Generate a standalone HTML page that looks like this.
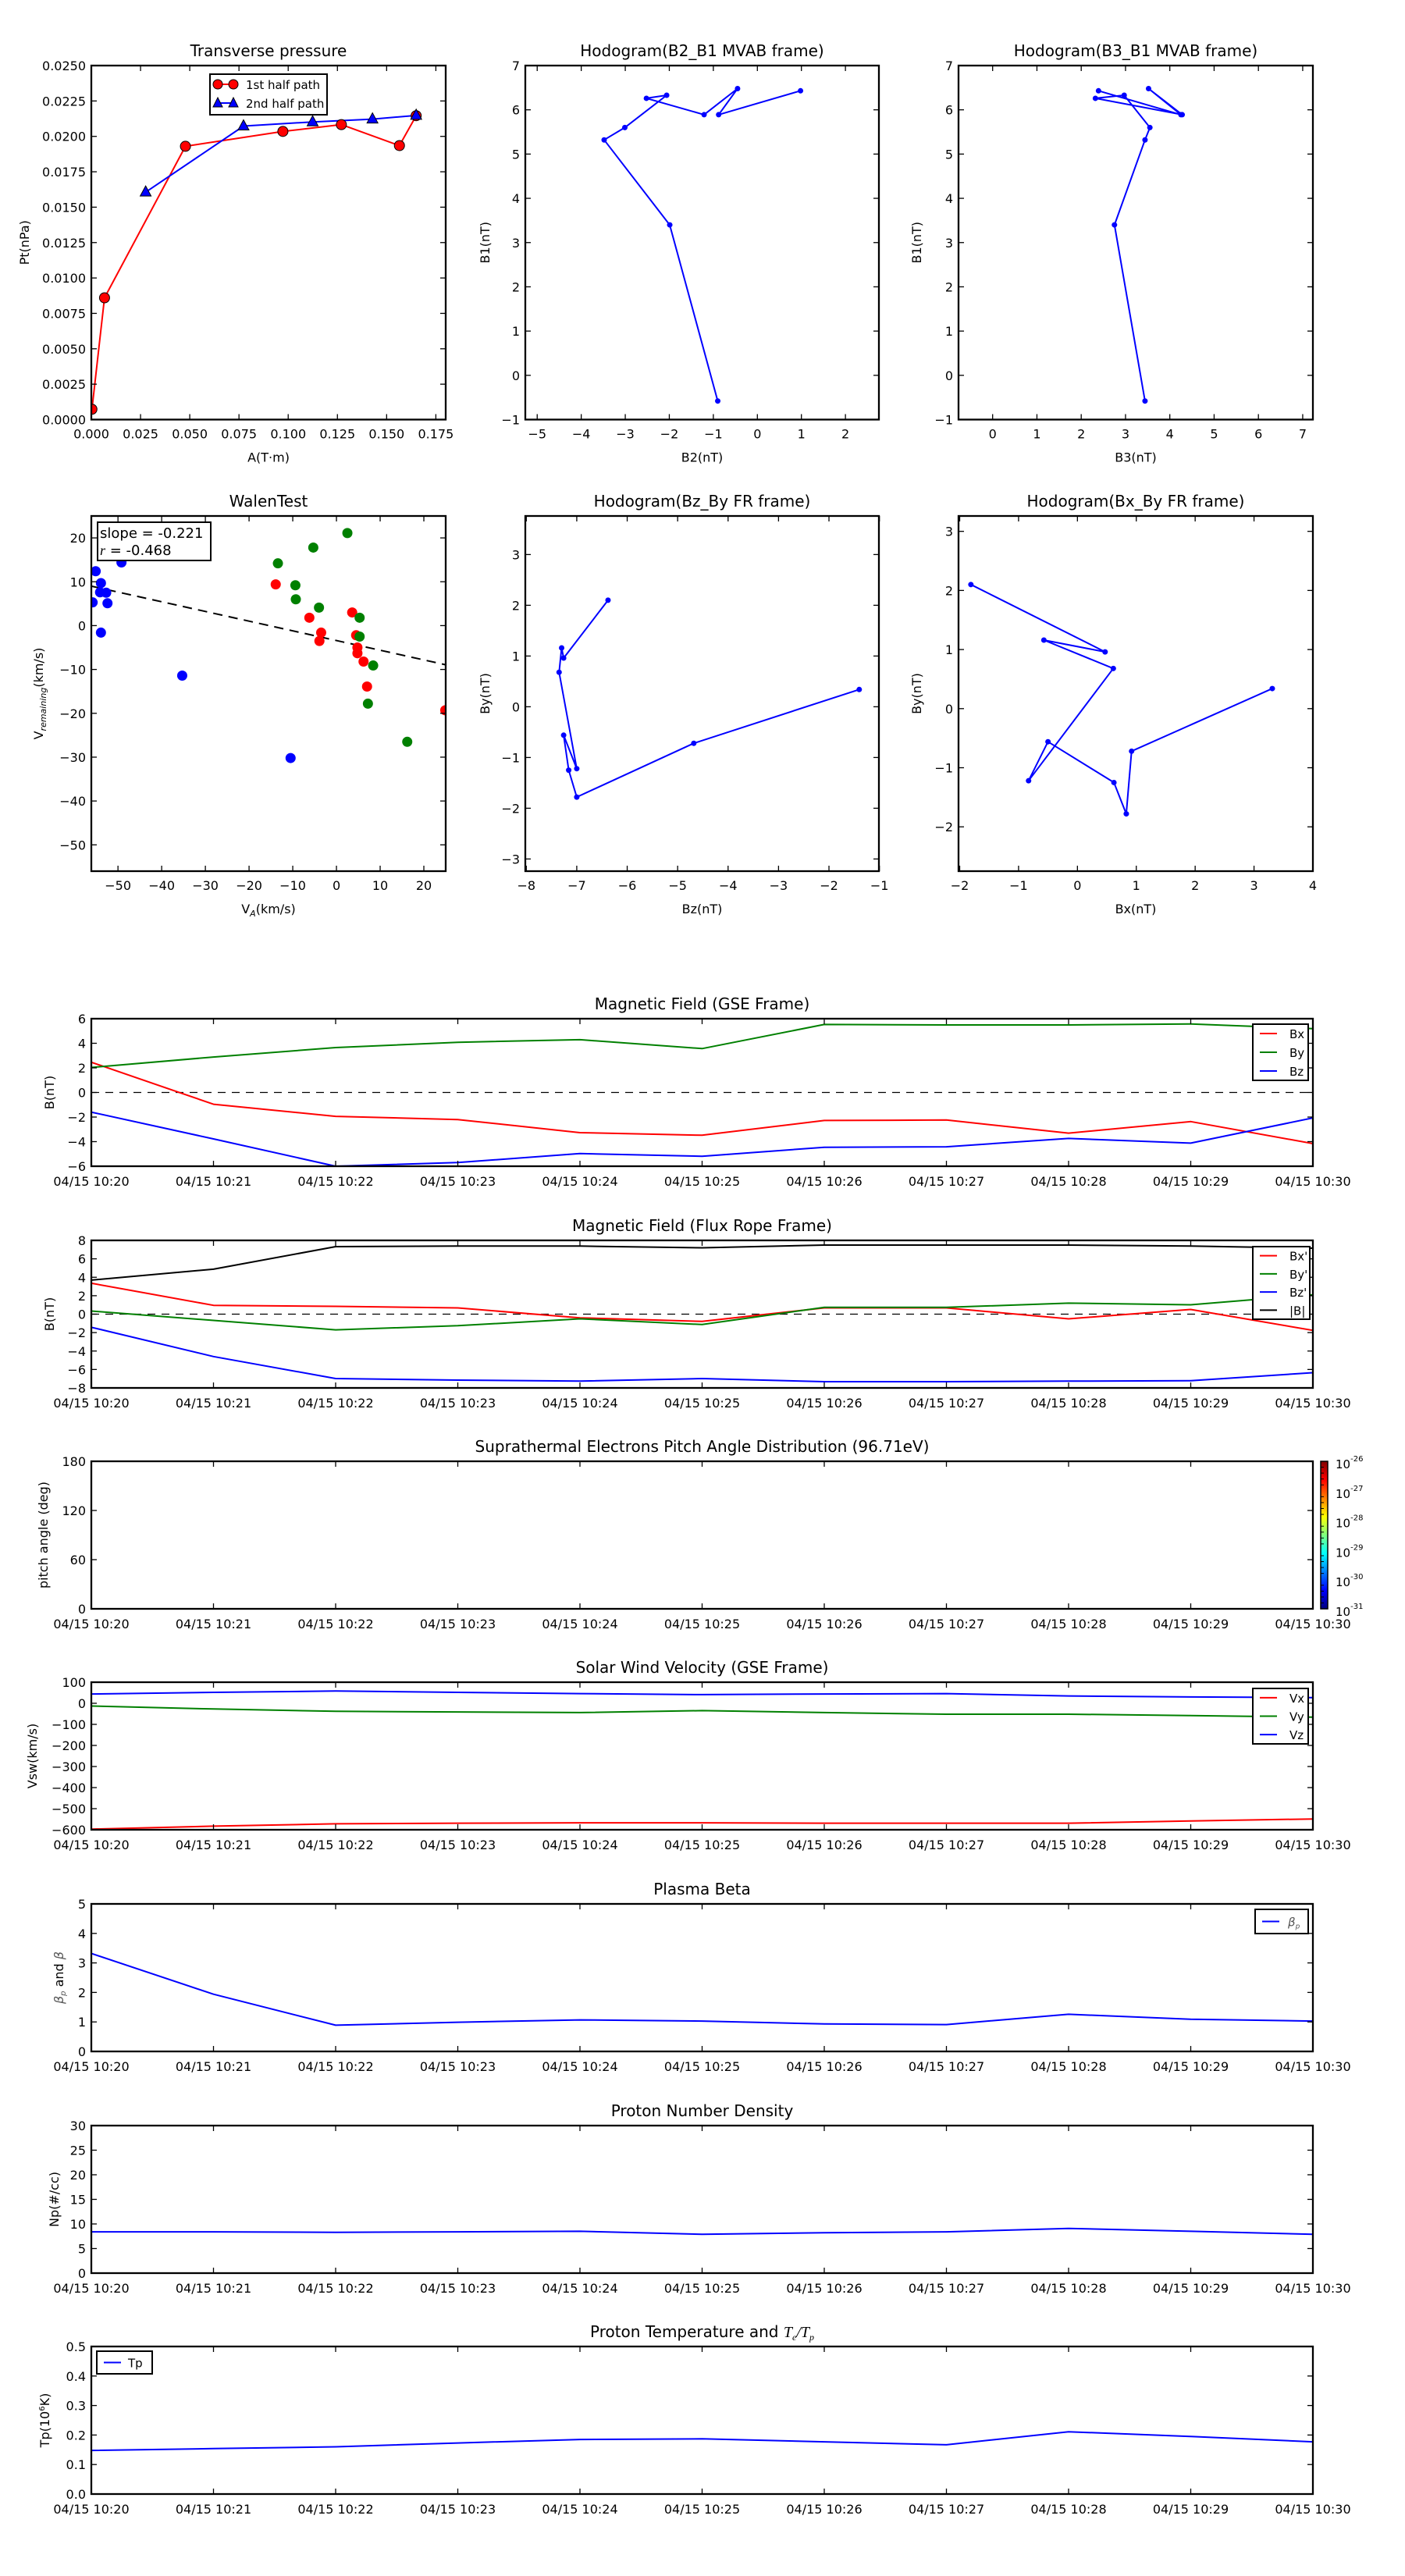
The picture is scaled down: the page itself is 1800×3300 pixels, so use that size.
<!DOCTYPE html>
<html><head><meta charset="utf-8"><title>Flux rope analysis</title>
<style>
html,body{margin:0;padding:0;background:#fff;}
svg{display:block;font-family:"DejaVu Sans","Liberation Sans",sans-serif;}
</style></head>
<body>
<svg id="fig" xmlns="http://www.w3.org/2000/svg" width="1800" height="3300" viewBox="0 0 1800 3300">
<defs>
<linearGradient id="jet" x1="0" y1="1" x2="0" y2="0">
<stop offset="0" stop-color="#00007f"/><stop offset="0.125" stop-color="#0000ff"/>
<stop offset="0.375" stop-color="#00ffff"/><stop offset="0.5" stop-color="#7fff7f"/>
<stop offset="0.625" stop-color="#ffff00"/><stop offset="0.875" stop-color="#ff0000"/>
<stop offset="1" stop-color="#7f0000"/>
</linearGradient>
</defs>
<rect x="0" y="0" width="1800" height="3300" fill="#fff"/>
</svg>
<script>
// ---------- Data ----------
// Transverse pressure
const tpA1 = [0.0003, 0.0067, 0.0478, 0.0973, 0.127, 0.1565, 0.165];
const tpP1 = [0.00073, 0.0086, 0.0193, 0.02035, 0.02083, 0.01935, 0.02146];
const tpA2 = [0.0276, 0.0773, 0.1124, 0.1428, 0.165];
const tpP2 = [0.01606, 0.02073, 0.02102, 0.02122, 0.02148];
// MVAB hodograms
const mvB1 = [-0.58, 3.40, 5.32, 5.60, 6.33, 6.26, 5.89, 6.48, 5.89, 6.43];
const mvB2 = [-0.90, -1.99, -3.48, -3.01, -2.06, -2.52, -1.21, -0.45, -0.88, 0.98];
const mvB3 = [3.44, 2.75, 3.44, 3.55, 2.97, 2.32, 4.28, 3.52, 4.25, 2.39];
// FR hodograms
const frBy = [2.10, 0.96, 1.16, 0.68, -1.22, -0.56, -1.25, -1.78, -0.72, 0.34];
const frBz = [-6.38, -7.26, -7.30, -7.35, -7.00, -7.26, -7.16, -7.00, -4.68, -1.40];
const frBx = [-1.81, 0.47, -0.57, 0.61, -0.83, -0.50, 0.62, 0.83, 0.92, 3.31];
// Walen test
const wBlueX = [-55.1, -53.9, -54.1, -52.7, -55.8, -52.4, -53.9, -49.2, -35.3, -10.5];
const wBlueY = [12.4, 9.7, 7.6, 7.5, 5.3, 5.1, -1.6, 14.4, -11.4, -30.2];
const wRedX = [-13.9, -6.2, -3.5, -3.9, 3.6, 4.5, 4.8, 4.8, 6.2, 7.0, 24.9];
const wRedY = [9.4, 1.8, -1.6, -3.5, 3.0, -2.2, -5.0, -6.3, -8.2, -13.9, -19.3];
const wGreenX = [-13.4, -5.3, 2.5, -9.4, -9.3, -4.0, 5.3, 5.3, 8.4, 7.2, 16.2];
const wGreenY = [14.2, 17.8, 21.1, 9.2, 6.0, 4.1, 1.8, -2.5, -9.1, -17.8, -26.5];
const wSlope = -0.221;
const wIntercept = -3.4;
// Time series
const timeLabels = ['04/15 10:20','04/15 10:21','04/15 10:22','04/15 10:23','04/15 10:24','04/15 10:25','04/15 10:26','04/15 10:27','04/15 10:28','04/15 10:29','04/15 10:30'];
const gseBx = [2.46, -0.96, -1.94, -2.2, -3.27, -3.48, -2.28, -2.24, -3.31, -2.37, -4.16];
const gseBy = [2.03, 2.88, 3.65, 4.08, 4.29, 3.57, 5.53, 5.49, 5.49, 5.57, 5.19];
const gseBz = [-1.6, -3.78, -6.0, -5.7, -4.97, -5.19, -4.46, -4.42, -3.74, -4.12, -2.07];
const fluxBx = [3.35, 0.96, 0.85, 0.68, -0.4, -0.79, 0.68, 0.68, -0.51, 0.51, -1.76];
const fluxBy = [0.34, -0.68, -1.70, -1.25, -0.51, -1.13, 0.74, 0.74, 1.19, 1.02, 2.1];
const fluxBz = [-1.42, -4.6, -6.98, -7.15, -7.26, -6.98, -7.32, -7.32, -7.26, -7.21, -6.35];
const fluxBt = [3.69, 4.88, 7.32, 7.38, 7.38, 7.2, 7.49, 7.49, 7.49, 7.38, 7.15];
const swVx = [-597, -583, -572, -569, -567, -567, -569, -569, -569, -558, -549];
const swVy = [-13, -27, -38, -41, -44, -35, -44, -52, -52, -58, -66];
const swVz = [44, 52, 58, 52, 46, 41, 44, 46, 35, 30, 27];
const betaP = [3.32, 1.94, 0.89, 0.99, 1.07, 1.03, 0.93, 0.91, 1.26, 1.09, 1.03];
const densNp = [8.4, 8.4, 8.3, 8.4, 8.5, 7.9, 8.2, 8.4, 9.1, 8.5, 7.9];
const tempTp = [0.148, 0.154, 0.16, 0.173, 0.185, 0.187, 0.177, 0.167, 0.211, 0.195, 0.177];

// ---------- Helpers ----------
const NS = 'http://www.w3.org/2000/svg';
const svg = document.getElementById('fig');
let clipN = 0;
function el(tag, attrs, parent, text) {
  const e = document.createElementNS(NS, tag);
  for (const k in attrs) e.setAttribute(k, attrs[k]);
  if (text !== undefined) e.textContent = text;
  (parent || svg).appendChild(e);
  return e;
}
function fmtMinus(s) { return String(s).replace('-', '\u2212'); }

function makeAxes(o) {
  const g = el('g', {});
  
  
  const sx = v => o.x0 + (v - o.xmin) / (o.xmax - o.xmin) * (o.x1 - o.x0);
  const sy = v => o.y1 - (v - o.ymin) / (o.ymax - o.ymin) * (o.y1 - o.y0);
  const cid = 'clip' + (clipN++);
  const cp = el('clipPath', {id: cid}, g);
  el('rect', {x: o.x0, y: o.y0, width: o.x1 - o.x0, height: o.y1 - o.y0}, cp);
  const data = el('g', {'clip-path': 'url(#' + cid + ')'}, g);
  
  
  const tl = o.tickLen || 7;
  const fs = o.fs || 16;
  const xtg = el('g', {}, g);
  
  
  o.xt.forEach((v, i) => {
    const x = sx(v);
    el('line', {x1: x, y1: o.y1, x2: x, y2: o.y1 - tl, stroke: '#000', 'stroke-width': 1.3}, xtg);
    el('line', {x1: x, y1: o.y0, x2: x, y2: o.y0 + tl, stroke: '#000', 'stroke-width': 1.3}, xtg);
    const t = el('text', {x: x, y: o.y1 + (o.xlOff || 24), 'text-anchor': 'middle', 'font-size': fs}, xtg, fmtMinus(o.xl[i]));
    
    
  });
  const ytg = el('g', {}, g);
  
  
  o.yt.forEach((v, i) => {
    const y = sy(v);
    el('line', {x1: o.x0, y1: y, x2: o.x0 + tl, y2: y, stroke: '#000', 'stroke-width': 1.3}, ytg);
    el('line', {x1: o.x1, y1: y, x2: o.x1 - tl, y2: y, stroke: '#000', 'stroke-width': 1.3}, ytg);
    const t = el('text', {x: o.x0 - 7, y: y + 6, 'text-anchor': 'end', 'font-size': fs}, ytg, fmtMinus(o.yl[i]));
    
    
  });
  const fr = el('rect', {x: o.x0, y: o.y0, width: o.x1 - o.x0, height: o.y1 - o.y0, fill: 'none', stroke: '#000', 'stroke-width': 2.3}, g);
  
  
  if (o.title) {
    const t = el('text', {x: (o.x0 + o.x1) / 2, y: o.y0 - 12, 'text-anchor': 'middle', 'font-size': 20}, g);
    t.innerHTML = o.title;
    
    
  }
  if (o.xlabel) {
    const t = el('text', {x: (o.x0 + o.x1) / 2, y: o.y1 + 54, 'text-anchor': 'middle', 'font-size': 16}, g);
    t.innerHTML = o.xlabel;
    
    
  }
  if (o.ylabel) {
    const yc = (o.y0 + o.y1) / 2;
    const t = el('text', {x: o.ylx, y: yc + 6, 'text-anchor': 'middle', 'font-size': 16, transform: 'rotate(-90 ' + o.ylx + ' ' + yc + ')'}, g);
    t.innerHTML = o.ylabel;
    
    
  }
  return {sx, sy, data, g};
}
function range(a, b, s) { const r = []; for (let v = a; v <= b + s * 1e-6; v += s) r.push(+v.toFixed(6)); return r; }
function polyline(ax, xs, ys, color, name, width) {
  const pts = xs.map((x, i) => ax.sx(x).toFixed(1) + ',' + ax.sy(ys[i]).toFixed(1)).join(' ');
  const p = el('polyline', {points: pts, fill: 'none', stroke: color, 'stroke-width': width || 2, 'stroke-linejoin': 'round'}, ax.data);
  
  
  return p;
}
function dots(ax, xs, ys, color, r, name, edge) {
  xs.forEach((x, i) => {
    const c = el('circle', {cx: ax.sx(x), cy: ax.sy(ys[i]), r: r, fill: color, stroke: edge || 'none', 'stroke-width': 1}, ax.data);
    
    
  });
}
function legend(x, y, w, h, entries, name, textX) {
  const g = el('g', {});
  
  
  el('rect', {x: x, y: y, width: w, height: h, fill: '#fff', stroke: '#000', 'stroke-width': 2}, g);
  const step = h / entries.length;
  entries.forEach((e, i) => {
    const cy = y + step * (i + 0.5);
    el('line', {x1: x + 9, y1: cy, x2: x + 31, y2: cy, stroke: e.c, 'stroke-width': 2}, g);
    const t = el('text', {x: x + (textX || 47), y: cy + 6, 'font-size': 15}, g);
    t.innerHTML = e.t;
    
    
  });
}

// ---------- Row 1 ----------
const r1y0 = 84, r1y1 = 537.5, r2y0 = 661, r2y1 = 1116;
const cx0 = [117, 673, 1228], cx1 = [571, 1126, 1682];

// Transverse pressure
(function(){
  const tpTicksX = range(0, 0.175, 0.025), tpTicksY = range(0, 0.025, 0.0025);
  const ax = makeAxes({name: 'transverse-pressure', x0: cx0[0], x1: cx1[0], y0: r1y0, y1: r1y1,
    xmin: 0, xmax: 0.18, ymin: 0, ymax: 0.025,
    xt: tpTicksX, xl: tpTicksX.map(v => v.toFixed(3)), yt: tpTicksY, yl: tpTicksY.map(v => v.toFixed(4)),
    title: 'Transverse pressure', xlabel: 'A(T·m)', ylabel: 'Pt(nPa)', ylx: 31});
  polyline(ax, tpA1, tpP1, '#ff0000', 'first-half-path-line', 2);
  polyline(ax, tpA2, tpP2, '#0000ff', 'second-half-path-line', 2);
  dots(ax, tpA1, tpP1, '#ff0000', 6.5, 'first-half-marker', '#000');
  tpA2.forEach((a, i) => {
    const x = ax.sx(a), y = ax.sy(tpP2[i]);
    const t = el('polygon', {points: `${x},${y-8} ${x-7},${y+5} ${x+7},${y+5}`, fill: '#0000ff', stroke: '#000', 'stroke-width': 1}, ax.data);
    
    
  });
  const lg = el('g', {});
  
  
  el('rect', {x: 269, y: 95, width: 150, height: 52, fill: '#fff', stroke: '#000', 'stroke-width': 2}, lg);
  el('line', {x1: 279, y1: 108, x2: 299, y2: 108, stroke: '#ff0000', 'stroke-width': 2}, lg);
  el('circle', {cx: 279, cy: 108, r: 6, fill: '#ff0000', stroke: '#000'}, lg);
  el('circle', {cx: 299, cy: 108, r: 6, fill: '#ff0000', stroke: '#000'}, lg);
  el('line', {x1: 279, y1: 132, x2: 299, y2: 132, stroke: '#0000ff', 'stroke-width': 2}, lg);
  el('polygon', {points: '279,125 273,137 285,137', fill: '#0000ff', stroke: '#000'}, lg);
  el('polygon', {points: '299,125 293,137 305,137', fill: '#0000ff', stroke: '#000'}, lg);
  el('text', {x: 315, y: 114, 'font-size': 15}, lg, '1st half path');
  el('text', {x: 315, y: 138, 'font-size': 15}, lg, '2nd half path');
})();

// Hodogram B2-B1
(function(){
  const xt = range(-5, 2, 1), yt = range(-1, 7, 1);
  const ax = makeAxes({name: 'hodogram-b2-b1', x0: cx0[1], x1: cx1[1], y0: r1y0, y1: r1y1,
    xmin: -5.27, xmax: 2.76, ymin: -1, ymax: 7, xt: xt, xl: xt.map(String), yt: yt, yl: yt.map(String),
    title: 'Hodogram(B2_B1 MVAB frame)', xlabel: 'B2(nT)', ylabel: 'B1(nT)', ylx: 621});
  polyline(ax, mvB2, mvB1, '#0000ff', 'b2-b1-path', 2);
  dots(ax, mvB2, mvB1, '#0000ff', 3.5, 'b2-b1-point');
})();
// Hodogram B3-B1
(function(){
  const xt = range(0, 7, 1), yt = range(-1, 7, 1);
  const ax = makeAxes({name: 'hodogram-b3-b1', x0: cx0[2], x1: cx1[2], y0: r1y0, y1: r1y1,
    xmin: -0.77, xmax: 7.23, ymin: -1, ymax: 7, xt: xt, xl: xt.map(String), yt: yt, yl: yt.map(String),
    title: 'Hodogram(B3_B1 MVAB frame)', xlabel: 'B3(nT)', ylabel: 'B1(nT)', ylx: 1174});
  polyline(ax, mvB3, mvB1, '#0000ff', 'b3-b1-path', 2);
  dots(ax, mvB3, mvB1, '#0000ff', 3.5, 'b3-b1-point');
})();

// ---------- Row 2 ----------
// Walen test
(function(){
  const xt = range(-50, 20, 10), yt = range(-50, 20, 10);
  const ax = makeAxes({name: 'walen-test', x0: cx0[0], x1: cx1[0], y0: r2y0, y1: r2y1,
    xmin: -56.1, xmax: 25, ymin: -56, ymax: 25, xt: xt, xl: xt.map(String), yt: yt, yl: yt.map(String),
    title: 'WalenTest', xlabel: 'V<tspan font-style="italic" font-size="11" dy="4">A</tspan><tspan dy="-4">(km/s)</tspan>',
    ylabel: 'V<tspan font-style="italic" font-size="11" dy="4">remaining</tspan><tspan dy="-4">(km/s)</tspan>', ylx: 49});
  const fitX = [-56.1, 25];
  const fitY = fitX.map(x => wSlope * x + wIntercept);
  const fl = polyline(ax, fitX, fitY, '#000', 'regression-line', 2);
  fl.setAttribute('stroke-dasharray', '12,8');
  dots(ax, wBlueX, wBlueY, '#0000ff', 6.5, 'walen-blue-point');
  dots(ax, wRedX, wRedY, '#ff0000', 6.5, 'walen-red-point');
  dots(ax, wGreenX, wGreenY, '#008000', 6.5, 'walen-green-point');
  const b = el('g', {});
  
  
  el('rect', {x: 125, y: 669, width: 145, height: 49, fill: '#fff', stroke: '#000', 'stroke-width': 2}, b);
  el('text', {x: 128, y: 689, 'font-size': 18}, b, 'slope = -0.221');
  const rt = el('text', {x: 128, y: 711, 'font-size': 18}, b);
  rt.innerHTML = '<tspan font-style="italic" font-family="Liberation Serif">r</tspan> = -0.468';
})();
// Hodogram Bz-By
(function(){
  const xt = range(-8, -1, 1), yt = range(-3, 3, 1);
  const ax = makeAxes({name: 'hodogram-bz-by', x0: cx0[1], x1: cx1[1], y0: r2y0, y1: r2y1,
    xmin: -8.02, xmax: -1.01, ymin: -3.24, ymax: 3.76, xt: xt, xl: xt.map(String), yt: yt, yl: yt.map(String),
    title: 'Hodogram(Bz_By FR frame)', xlabel: 'Bz(nT)', ylabel: 'By(nT)', ylx: 621});
  polyline(ax, frBz, frBy, '#0000ff', 'bz-by-path', 2);
  dots(ax, frBz, frBy, '#0000ff', 3.5, 'bz-by-point');
})();
// Hodogram Bx-By
(function(){
  const xt = range(-2, 4, 1), yt = range(-2, 3, 1);
  const ax = makeAxes({name: 'hodogram-bx-by', x0: cx0[2], x1: cx1[2], y0: r2y0, y1: r2y1,
    xmin: -2.02, xmax: 4.0, ymin: -2.75, ymax: 3.26, xt: xt, xl: xt.map(String), yt: yt, yl: yt.map(String),
    title: 'Hodogram(Bx_By FR frame)', xlabel: 'Bx(nT)', ylabel: 'By(nT)', ylx: 1174});
  polyline(ax, frBx, frBy, '#0000ff', 'bx-by-path', 2);
  dots(ax, frBx, frBy, '#0000ff', 3.5, 'bx-by-point');
})();

// ---------- Time series ----------
const tIdx = timeLabels.map((_, i) => i);
const tsTop = [1305, 1589, 1872, 2155, 2439, 2723, 3006];
const tsH = 189;
function tsAxes(k, name, ymin, ymax, yt, yl, title, ylabel, ylx) {
  return makeAxes({name: name, x0: 117, x1: 1682, y0: tsTop[k], y1: tsTop[k] + tsH,
    xmin: 0, xmax: 10, ymin: ymin, ymax: ymax, xt: tIdx, xl: timeLabels, yt: yt, yl: yl,
    title: title, ylabel: ylabel, ylx: ylx, xlOff: 25});
}
function zeroLine(ax, name) {
  const l = el('line', {x1: ax.sx(0), y1: ax.sy(0), x2: ax.sx(10), y2: ax.sy(0), stroke: '#000', 'stroke-width': 1.2, 'stroke-dasharray': '10,8'}, ax.data);
  
  
}
// GSE
(function(){
  const yt = range(-6, 6, 2);
  const ax = tsAxes(0, 'magnetic-field-gse', -6, 6, yt, yt.map(String), 'Magnetic Field (GSE Frame)', 'B(nT)', 63);
  zeroLine(ax, 'gse-zero-line');
  polyline(ax, tIdx, gseBx, '#ff0000', 'gse-bx-line');
  polyline(ax, tIdx, gseBy, '#008000', 'gse-by-line');
  polyline(ax, tIdx, gseBz, '#0000ff', 'gse-bz-line');
  legend(1605, 1312, 71, 72, [{c:'#ff0000',t:'Bx'},{c:'#008000',t:'By'},{c:'#0000ff',t:'Bz'}], 'gse-legend');
})();
// Flux rope
(function(){
  const yt = range(-8, 8, 2);
  const ax = tsAxes(1, 'magnetic-field-flux-rope', -8, 8, yt, yt.map(String), 'Magnetic Field (Flux Rope Frame)', 'B(nT)', 63);
  zeroLine(ax, 'flux-zero-line');
  polyline(ax, tIdx, fluxBt, '#000000', 'flux-btotal-line');
  polyline(ax, tIdx, fluxBx, '#ff0000', 'flux-bx-line');
  polyline(ax, tIdx, fluxBy, '#008000', 'flux-by-line');
  polyline(ax, tIdx, fluxBz, '#0000ff', 'flux-bz-line');
  legend(1605, 1597, 73, 93, [{c:'#ff0000',t:"Bx'"},{c:'#008000',t:"By'"},{c:'#0000ff',t:"Bz'"},{c:'#000',t:'|B|'}], 'flux-legend');
})();
// Pitch angle distribution
(function(){
  const yt = [0, 60, 120, 180];
  tsAxes(2, 'pitch-angle-distribution', 0, 180, yt, yt.map(String), 'Suprathermal Electrons Pitch Angle Distribution (96.71eV)', 'pitch angle (deg)', 55);
  const cb = el('g', {});
  
  
  el('rect', {x: 1692, y: 1872, width: 9, height: 189, fill: 'url(#jet)', stroke: '#000', 'stroke-width': 1.5}, cb);
  const cbExp = ['-26', '-27', '-28', '-29', '-30', '-31'];
  cbExp.forEach((e, i) => {
    const y = 1872 + i * 189 / 5;
    const t = el('text', {x: 1711, y: y + 9, 'font-size': 15}, cb);
    t.innerHTML = '10<tspan font-size="10" dy="-9">' + e + '</tspan>';
    
    
    for (let m = 1; m < 5 && i < 5; m++) {
      el('line', {x1: 1692, x2: 1696, y1: y + m * 189 / 25, y2: y + m * 189 / 25, stroke: '#000', 'stroke-width': 1}, cb);
    }
  });
})();
// Solar wind velocity
(function(){
  const yt = range(-600, 100, 100);
  const ax = tsAxes(3, 'solar-wind-velocity', -600, 100, yt, yt.map(String), 'Solar Wind Velocity (GSE Frame)', 'Vsw(km/s)', 41);
  polyline(ax, tIdx, swVx, '#ff0000', 'vx-line');
  polyline(ax, tIdx, swVy, '#008000', 'vy-line');
  polyline(ax, tIdx, swVz, '#0000ff', 'vz-line');
  legend(1605, 2163, 71, 71, [{c:'#ff0000',t:'Vx'},{c:'#008000',t:'Vy'},{c:'#0000ff',t:'Vz'}], 'velocity-legend');
})();
// Plasma beta
(function(){
  const yt = range(0, 5, 1);
  const ax = tsAxes(4, 'plasma-beta', 0, 5, yt, yt.map(String), 'Plasma Beta',
    '<tspan font-style="italic" fill="#555">β</tspan><tspan font-style="italic" font-size="10" dy="3" fill="#555">p</tspan><tspan dy="-3"> and </tspan><tspan font-style="italic" fill="#555">β</tspan>', 75);
  polyline(ax, tIdx, betaP, '#0000ff', 'beta-p-line');
  legend(1608, 2446, 68, 31, [{c:'#0000ff',t:'<tspan font-style="italic" fill="#555">β</tspan><tspan font-size="9" dy="3" font-style="italic" fill="#555">p</tspan>'}], 'beta-legend', 42);
})();
// Density
(function(){
  const yt = range(0, 30, 5);
  const ax = tsAxes(5, 'proton-density', 0, 30, yt, yt.map(String), 'Proton Number Density', 'Np(#/cc)', 69);
  polyline(ax, tIdx, densNp, '#0000ff', 'density-line');
})();
// Temperature
(function(){
  const yt = range(0, 0.5, 0.1);
  const ax = tsAxes(6, 'proton-temperature', 0, 0.5, yt, yt.map(v => v.toFixed(1)),
    'Proton Temperature and <tspan font-family="Liberation Serif" font-style="italic">T</tspan><tspan font-family="Liberation Serif" font-style="italic" font-size="12" dy="4">e</tspan><tspan dy="-4" font-family="Liberation Serif" font-style="italic">/T</tspan><tspan font-family="Liberation Serif" font-style="italic" font-size="12" dy="4">p</tspan>',
    'Tp(10<tspan font-size="10" dy="-6">6</tspan><tspan dy="6">K)</tspan>', 57);
  polyline(ax, tIdx, tempTp, '#0000ff', 'tp-line');
  legend(124, 3012, 71, 29, [{c:'#0000ff',t:'Tp'}], 'temperature-legend', 40);
})();
</script>
</body></html>
